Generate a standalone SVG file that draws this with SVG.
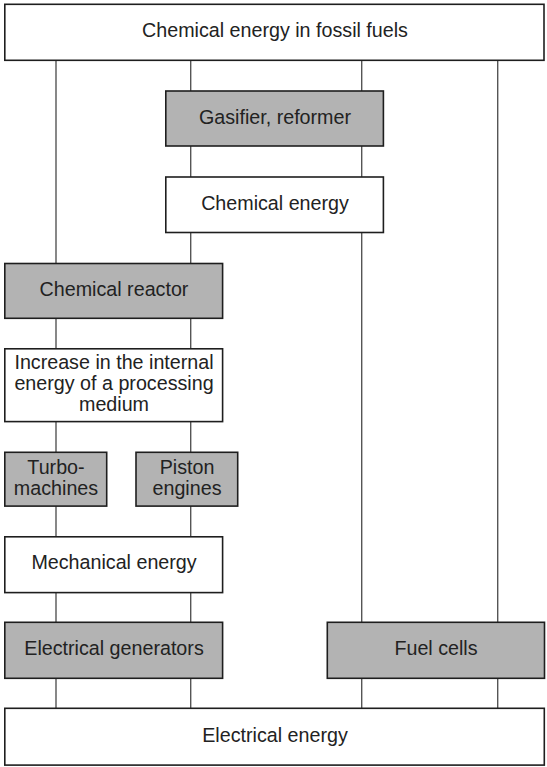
<svg xmlns="http://www.w3.org/2000/svg" width="547" height="767" viewBox="0 0 547 767">
<style>
.box{stroke:#1e1e1e;stroke-width:1.6}
.w{fill:#ffffff}
.g{fill:#b3b3b3}
.ln{stroke:#555;stroke-width:1.4;fill:none}
text{font-family:"Liberation Sans",Arial,sans-serif;font-size:19.7px;fill:#222;text-anchor:middle}
</style>
<rect width="547" height="767" fill="#fff"/>
<g id="connectors">
<line class="ln" x1="56" y1="60" x2="56" y2="709"/>
<line class="ln" x1="190.7" y1="60" x2="190.7" y2="709"/>
<line class="ln" x1="361.7" y1="60" x2="361.7" y2="709"/>
<line class="ln" x1="497.7" y1="60" x2="497.7" y2="709"/>
</g>
<g id="fossil"><rect class="box w" x="4.8" y="4.3" width="539.2" height="56"/><text x="275" y="36.5">Chemical energy in fossil fuels</text></g>
<g id="gasifier"><rect class="box g" x="165.8" y="91" width="217.6" height="55"/><text x="275" y="124">Gasifier, reformer</text></g>
<g id="chemenergy"><rect class="box w" x="165.8" y="177" width="217.6" height="55.5"/><text x="275" y="209.5">Chemical energy</text></g>
<g id="reactor"><rect class="box g" x="4.8" y="263.5" width="217.8" height="54.8"/><text x="114" y="295.8">Chemical reactor</text></g>
<g id="internal"><rect class="box w" x="4.8" y="348.8" width="217.8" height="72.8"/><text x="114" y="368.5">Increase in the internal</text><text x="114" y="390">energy of a processing</text><text x="114" y="411.3">medium</text></g>
<g id="turbo"><rect class="box g" x="4.8" y="452.3" width="101.9" height="53.8"/><text x="56" y="473.5">Turbo-</text><text x="56" y="494.5">machines</text></g>
<g id="piston"><rect class="box g" x="136" y="452.3" width="101.7" height="53.8"/><text x="187" y="473.5">Piston</text><text x="187" y="494.5">engines</text></g>
<g id="mechanical"><rect class="box w" x="4.8" y="536.8" width="217.8" height="55.8"/><text x="114" y="568.5">Mechanical energy</text></g>
<g id="generators"><rect class="box g" x="4.8" y="622.3" width="217.8" height="56"/><text x="114" y="655">Electrical generators</text></g>
<g id="fuelcells"><rect class="box g" x="327.3" y="622.3" width="217.2" height="56"/><text x="436" y="654.5">Fuel cells</text></g>
<g id="electrical"><rect class="box w" x="4.8" y="708.3" width="539.5" height="56.8"/><text x="275" y="741.5">Electrical energy</text></g>
</svg>
